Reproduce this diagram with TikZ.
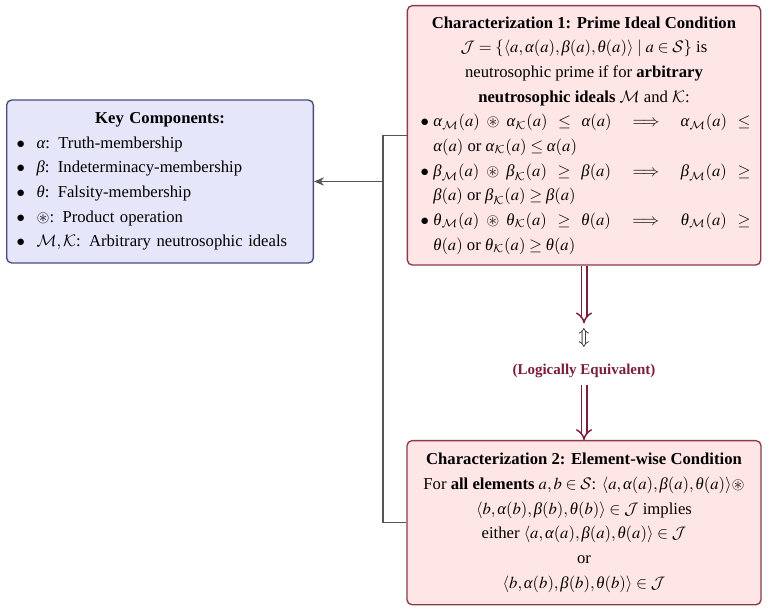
\documentclass[tikz,border=0pt]{standalone}
\usepackage{amsmath,amssymb}
\usepackage{mathptmx}
\DeclareMathAlphabet{\mathcal}{OMS}{cmsy}{m}{n}
\usepackage{fontspec}
\setmainfont{Liberation Serif}
\renewcommand{\alpha}{\mathord{\textit{α}}}
\renewcommand{\beta}{\mathord{\textit{β}}}
\renewcommand{\theta}{\mathord{\textit{θ}}}
\usetikzlibrary{arrows.meta,positioning}
\definecolor{maroonc}{HTML}{7A1F3D}
\definecolor{pinkfill}{HTML}{FFE6E6}
\definecolor{pinkdraw}{HTML}{8B3A4A}
\definecolor{bluefill}{HTML}{E6E6FA}
\definecolor{bluedraw}{HTML}{4A4A7A}
\definecolor{linkgray}{HTML}{555555}
\newenvironment{blist}[2]{\begin{list}{$\bullet$}{\setlength\leftmargin{#1}\setlength\labelsep{#2}\setlength\labelwidth{\dimexpr#1-#2\relax}\setlength\itemsep{0pt}\setlength\topsep{0pt}\setlength\parsep{0pt}\setlength\partopsep{0pt}}}{\end{list}}
\tikzset{
  charbox/.style={draw=pinkdraw, fill=pinkfill, line width=0.8pt, rounded corners=3pt,
    text width=200pt, inner xsep=6pt, inner ysep=6.5pt, align=justify,
    font=\fontsize{10}{14.8}\selectfont},
  char2box/.style={draw=pinkdraw, fill=pinkfill, line width=0.8pt, rounded corners=3pt,
    minimum width=212.4pt, align=center, inner xsep=4pt, inner ysep=7.5pt,
    font=\fontsize{10}{14.8}\selectfont},
  keybox/.style={draw=bluedraw, fill=bluefill, line width=0.8pt, rounded corners=3pt,
    text width=172pt, inner xsep=6pt, inner ysep=7.5pt, align=left,
    font=\fontsize{10}{14.8}\selectfont},
  dblarrow/.style={draw=maroonc, double, double distance=2.4pt, line width=0.9pt,
    -{Implies[length=5pt]}},
  link/.style={draw=linkgray, line width=0.8pt},
}
\begin{document}
\begin{tikzpicture}[x=1pt,y=1pt]
\useasboundingbox (0,0) rectangle (465.6,-368.4);
\node[charbox, anchor=north] (c1) at (350.4,-3) {%
  {\centering\textbf{Characterization 1: Prime Ideal Condition}\\
  $\mathcal{J} = \{\langle a,\alpha(a),\beta(a),\theta(a)\rangle \mid a \in \mathcal{S}\}$ is\\
  neutrosophic prime if for \textbf{arbitrary}\\
  \textbf{neutrosophic ideals} $\mathcal{M}$ and $\mathcal{K}$:\par}
  \begin{blist}{9.6pt}{2.6pt}
  \item $\alpha_{\mathcal{M}}(a) \circledast \alpha_{\mathcal{K}}(a) \leq \alpha(a) \implies \alpha_{\mathcal{M}}(a) \leq$\linebreak$\alpha(a)$ or $\alpha_{\mathcal{K}}(a) \leq \alpha(a)$
  \item $\beta_{\mathcal{M}}(a) \circledast \beta_{\mathcal{K}}(a) \geq \beta(a) \implies \beta_{\mathcal{M}}(a) \geq$\linebreak$\beta(a)$ or $\beta_{\mathcal{K}}(a) \geq \beta(a)$
  \item $\theta_{\mathcal{M}}(a) \circledast \theta_{\mathcal{K}}(a) \geq \theta(a) \implies \theta_{\mathcal{M}}(a) \geq$\linebreak$\theta(a)$ or $\theta_{\mathcal{K}}(a) \geq \theta(a)$
  \end{blist}};
\node[keybox, anchor=west] (key) at (3.6,-108.9) {%
  {\centering\textbf{Key Components:}\par}
  \begin{blist}{11.2pt}{7pt}
  \item $\alpha$: Truth-membership
  \item $\beta$: Indeterminacy-membership
  \item $\theta$: Falsity-membership
  \item $\circledast$: Product operation
  \item $\mathcal{M},\mathcal{K}$: Arbitrary neutrosophic ideals
  \end{blist}};
\node[char2box, anchor=north] (c2) at (350.4,-264) {%
  \textbf{Characterization 2: Element-wise Condition}\\
  For \textbf{all elements} $a,b \in \mathcal{S}$: $\langle a,\alpha(a),\beta(a),\theta(a)\rangle \circledast$\\
  $\langle b,\alpha(b),\beta(b),\theta(b)\rangle \in \mathcal{J}$ implies\\
  either $\langle a,\alpha(a),\beta(a),\theta(a)\rangle \in \mathcal{J}$\\
  or\\
  $\langle b,\alpha(b),\beta(b),\theta(b)\rangle \in \mathcal{J}$};
\node[inner sep=1pt, font=\fontsize{11}{12}\selectfont] (eq) at (350.4,-203) {$\Updownarrow$};
\node[inner sep=1pt, text=maroonc, font=\fontsize{9}{11}\selectfont\bfseries] (lbl) at (350.4,-222.5) {(Logically Equivalent)};
\coordinate (a1end) at (350.4,-194);
\coordinate (a2start) at (350.4,-231);
\draw[dblarrow] (c1.south) -- (a1end);
\draw[dblarrow] (a2start) -- (c2.north);
\coordinate (bus) at (229.8,0);
\draw[link] (c1.west) -- (c1.west -| bus) -- (c2.west -| bus) -- (c2.west);
\draw[link, -{Stealth[length=6pt,width=5pt]}] (key.east -| bus) -- (key.east);
\end{tikzpicture}
\end{document}
